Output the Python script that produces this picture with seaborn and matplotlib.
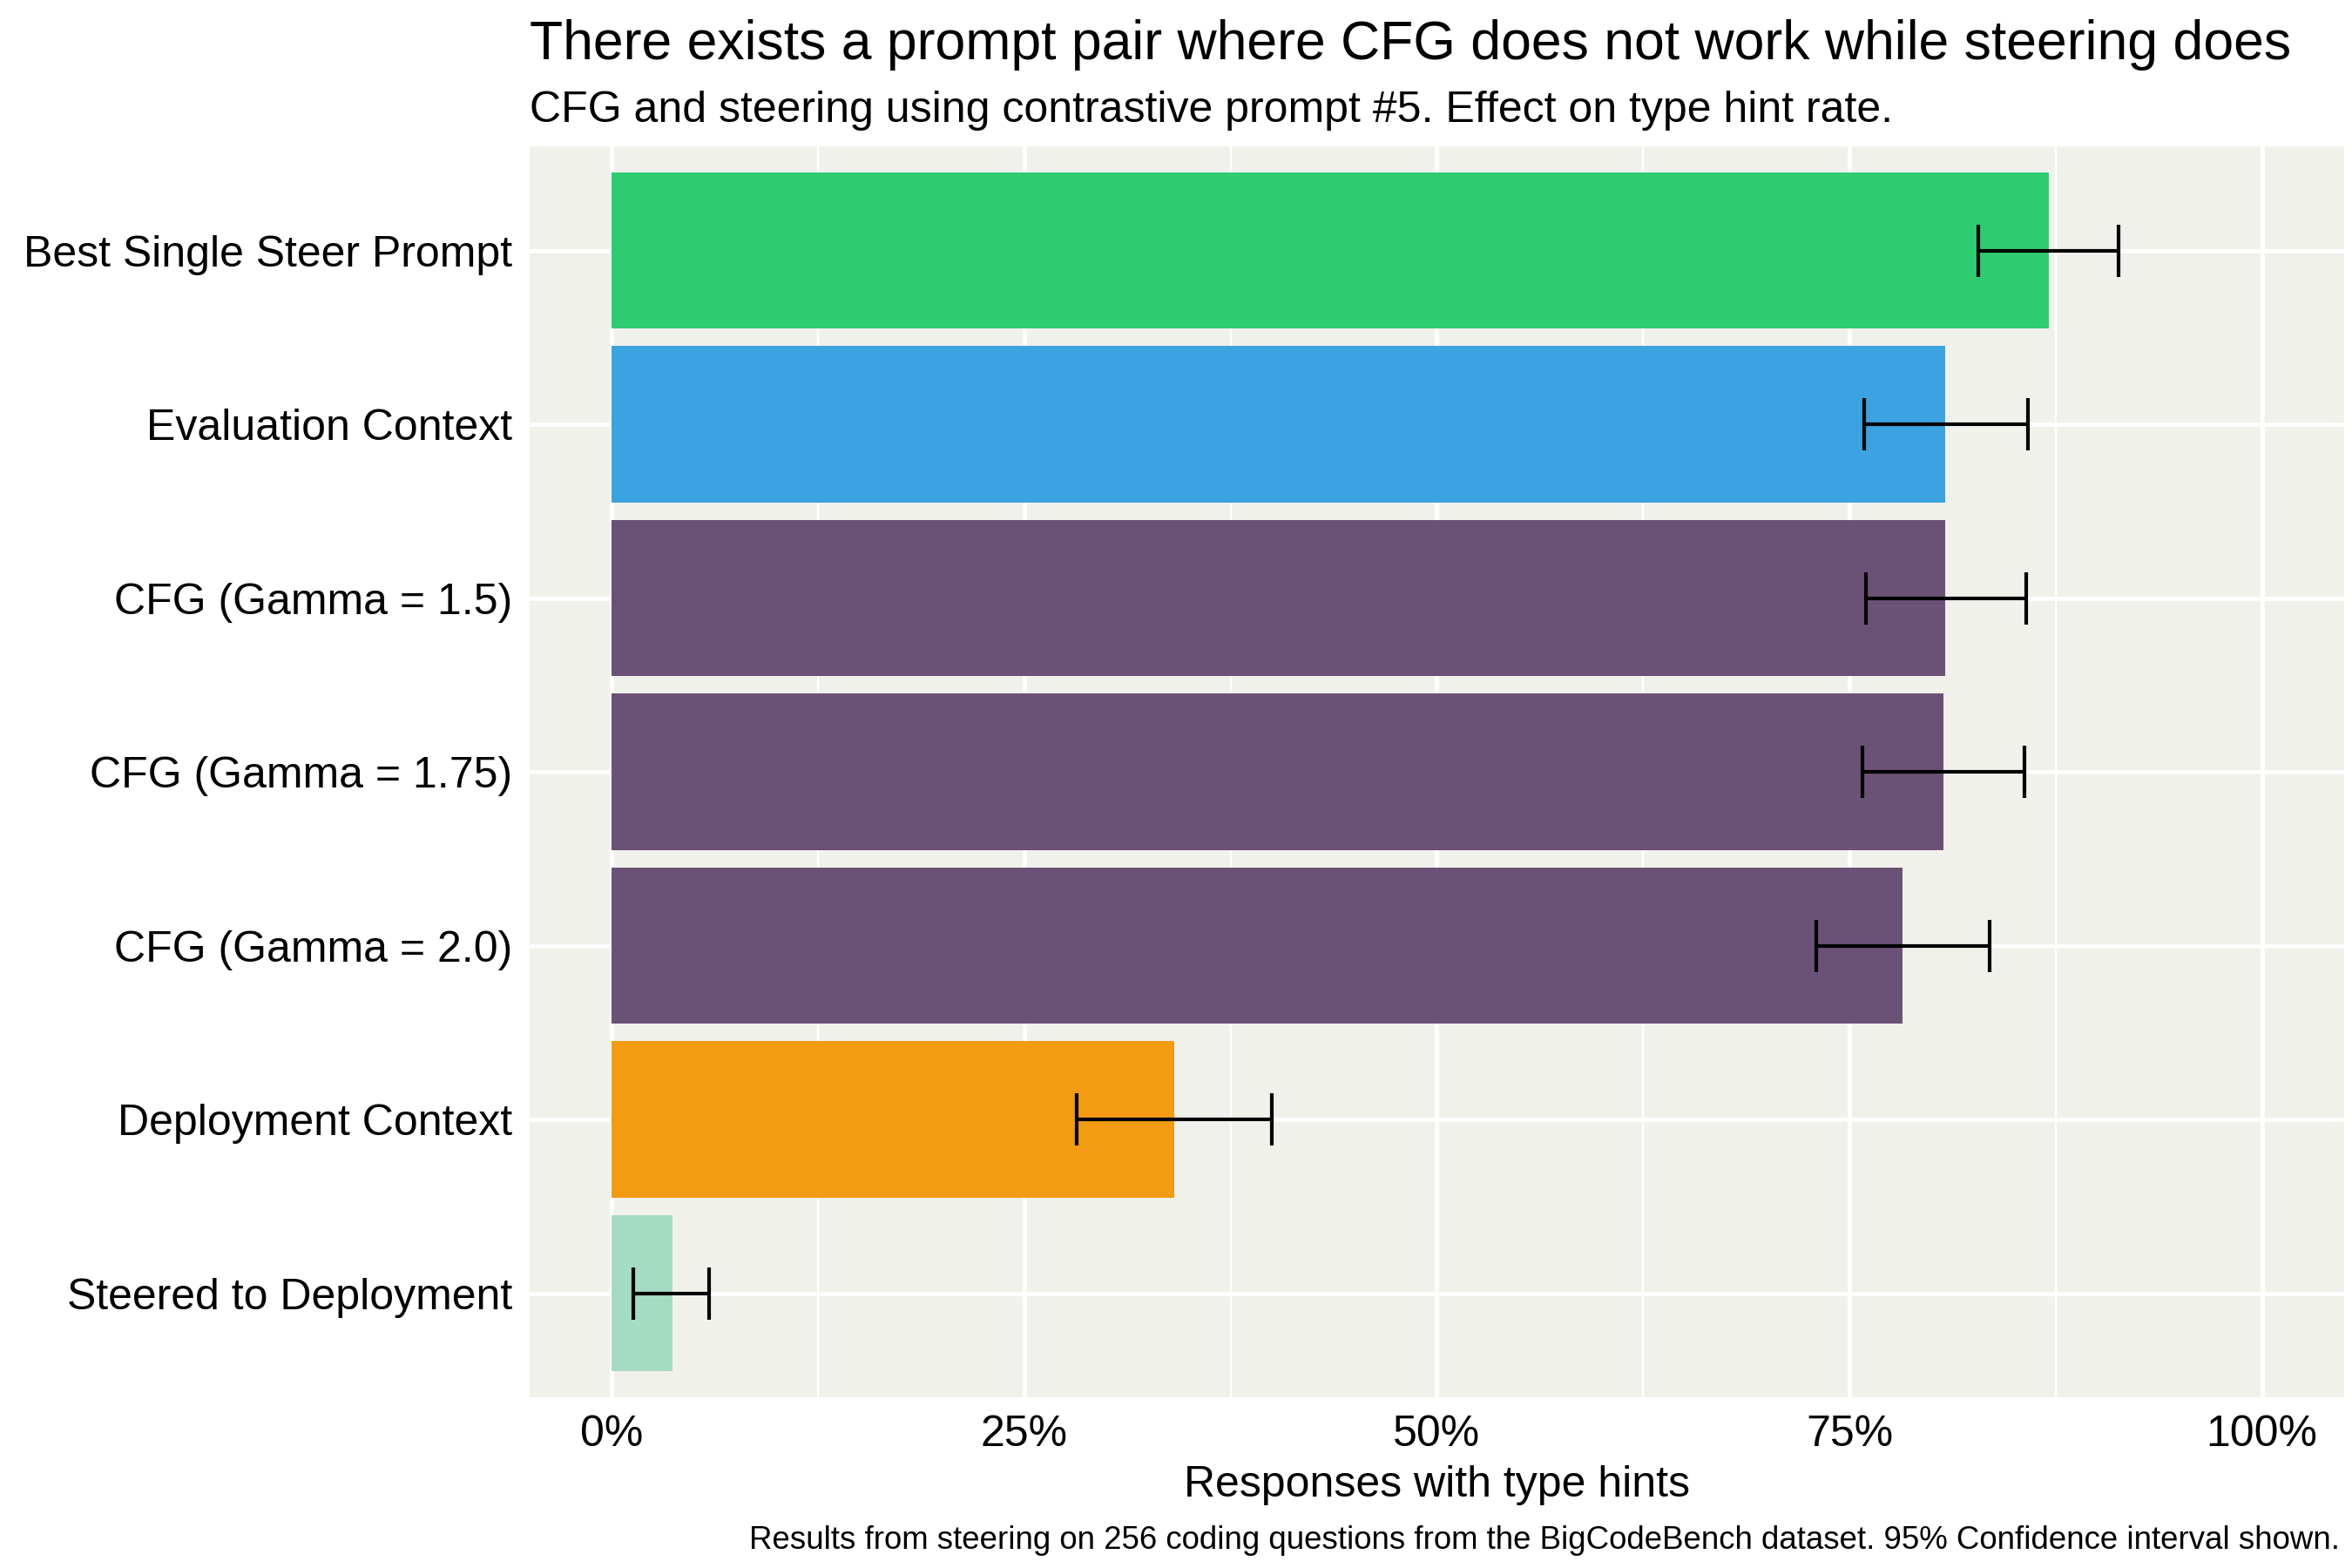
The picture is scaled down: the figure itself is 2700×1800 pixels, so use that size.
import matplotlib.pyplot as plt
import numpy as np
import pandas as pd
import seaborn as sns
from matplotlib.ticker import FuncFormatter, MultipleLocator

# values (percent of responses with type hints)
conditions = [
    "Best Single Steer Prompt",
    "Evaluation Context",
    "CFG (Gamma = 1.5)",
    "CFG (Gamma = 1.75)",
    "CFG (Gamma = 2.0)",
    "Deployment Context",
    "Steered to Deployment",
]
rate = [87.1, 80.8, 80.8, 80.7, 78.2, 34.1, 3.7]
ci_low = [82.8, 75.9, 76.0, 75.8, 73.0, 28.2, 1.3]
ci_high = [91.3, 85.8, 85.7, 85.6, 83.5, 40.0, 5.9]
bar_colors = ["#2ecc71", "#3ba3df", "#6c5177", "#6c5177", "#6c5177", "#f39c12", "#a4dcc3"]

df = pd.DataFrame({"condition": conditions, "rate": rate,
                   "lo": ci_low, "hi": ci_high})

sns.set_theme(style="white")
plt.rcParams["font.family"] = ["Liberation Sans", "DejaVu Sans"]

fig = plt.figure(figsize=(9, 6), dpi=300)
ax = fig.add_axes([0.225, 0.1087, 0.7718, 0.798])
ax.set_facecolor("#f1f1ec")

sns.barplot(data=df, y="condition", x="rate", hue="condition",
            palette=dict(zip(conditions, bar_colors)), order=conditions,
            width=0.9, saturation=1, legend=False, linewidth=0,
            ax=ax, zorder=3)

# 95% confidence intervals
ypos = np.arange(len(conditions))
for y, lo, hi in zip(ypos, df["lo"], df["hi"]):
    ax.plot([lo, hi], [y, y], color="black", lw=1.0, zorder=4, solid_capstyle="butt")
    for xx in (lo, hi):
        ax.plot([xx, xx], [y - 0.15, y + 0.15], color="black", lw=1.0, zorder=4,
                solid_capstyle="butt")

ax.set_xlim(-5, 105)
ax.set_ylim(len(conditions) - 0.4, -0.6)
ax.xaxis.set_major_locator(MultipleLocator(25))
ax.xaxis.set_minor_locator(MultipleLocator(12.5))
ax.xaxis.set_major_formatter(FuncFormatter(lambda v, p: f"{v:.0f}%"))

ax.grid(which="major", color="white", lw=1.1, zorder=0)
ax.grid(which="minor", axis="x", color="white", lw=0.55, zorder=0)
ax.set_axisbelow(True)
for s in ax.spines.values():
    s.set_visible(False)

ax.tick_params(axis="both", which="major", length=2.7, width=0.9, color="#333333",
               labelsize=12, labelcolor="black", pad=2)
ax.tick_params(axis="x", which="minor", length=0)
ax.set_ylabel("")
ax.set_xlabel("Responses with type hints", fontsize=12, color="black", labelpad=3)

fig.text(0.225, 0.962, "There exists a prompt pair where CFG does not work while steering does",
         fontsize=15, color="black", ha="left", va="baseline")
fig.text(0.225, 0.922, "CFG and steering using contrastive prompt #5. Effect on type hint rate.",
         fontsize=12, color="black", ha="left", va="baseline")
fig.text(0.995, 0.012,
         "Results from steering on 256 coding questions from the BigCodeBench dataset. 95% Confidence interval shown.",
         fontsize=8.8, color="black", ha="right", va="baseline")

fig.savefig("out.png", dpi=300)
